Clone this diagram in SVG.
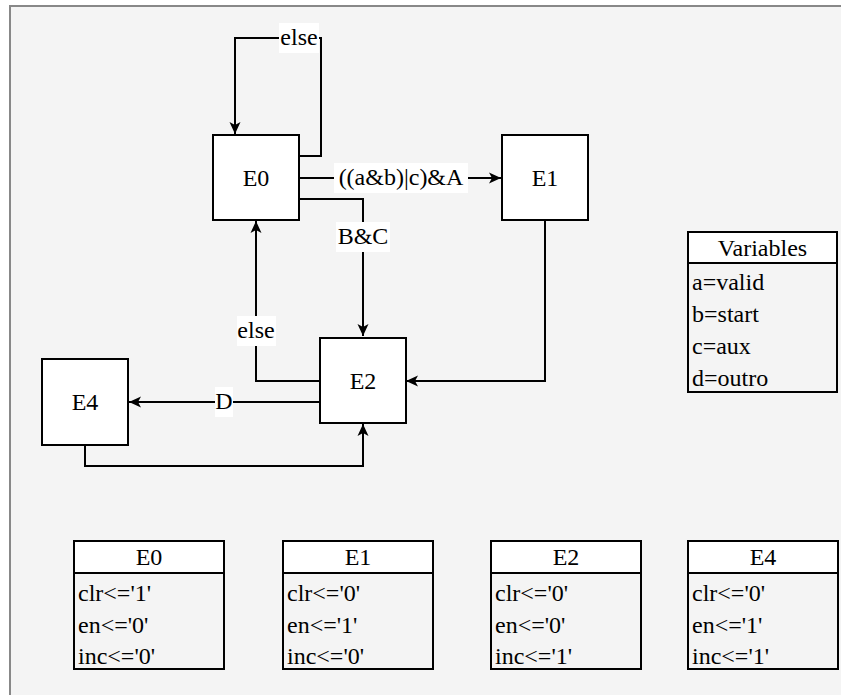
<svg xmlns="http://www.w3.org/2000/svg" width="841" height="695" viewBox="0 0 841 695">
  <style>
    text { font-family: "Liberation Serif", "Times New Roman", serif; font-size: 24px; fill: #000; dominant-baseline: central; }
    .node { fill: #fff; stroke: #000; stroke-width: 2; }
    .edge { fill: none; stroke: #000; stroke-width: 2; }
    .lbl { fill: #fff; stroke: none; }
    .mid { text-anchor: middle; }
    .tbl { fill: none; stroke: #000; stroke-width: 2; }
    .head { fill: #fff; stroke: #000; stroke-width: 2; }
  </style>
  <defs>
    <marker id="arrow" markerUnits="userSpaceOnUse" markerWidth="14" markerHeight="12" refX="12.5" refY="6" orient="auto">
      <path d="M0.5,0.5 L12.5,6 L0.5,11.5 L3.5,6 Z" fill="#000"/>
    </marker>
  </defs>

  <!-- canvas -->
  <rect x="0" y="0" width="841" height="695" fill="#fff"/>
  <rect x="10" y="6" width="831" height="689" fill="#f4f4f4"/>
  <path d="M10,695 L10,6 L841,6" fill="none" stroke="#888" stroke-width="2"/>

  <!-- connectors -->
  <g id="connectors">
    <!-- E0 self loop -->
    <path class="edge" d="M299,156 L321,156 L321,38 L235,38 L235,134" marker-end="url(#arrow)"/>
    <rect class="lbl" x="279" y="23" width="40" height="30"/>
    <text class="mid" x="299" y="37">else</text>

    <!-- E0 to E1 -->
    <path class="edge" d="M299,178 L501,178" marker-end="url(#arrow)"/>
    <rect class="lbl" x="334" y="163" width="134" height="30"/>
    <text class="mid" x="401" y="177">((a&amp;b)|c)&amp;A</text>

    <!-- E0 to E2 -->
    <path class="edge" d="M299,199 L363,199 L363,336" marker-end="url(#arrow)"/>
    <rect class="lbl" x="336" y="222" width="54" height="30"/>
    <text class="mid" x="363" y="236">B&amp;C</text>

    <!-- E2 to E0 -->
    <path class="edge" d="M320,381 L256,381 L256,221" marker-end="url(#arrow)"/>
    <rect class="lbl" x="237" y="316" width="39" height="30"/>
    <text class="mid" x="256" y="330">else</text>

    <!-- E1 to E2 -->
    <path class="edge" d="M545,220 L545,381 L406,381" marker-end="url(#arrow)"/>

    <!-- E2 to E4 -->
    <path class="edge" d="M320,402 L129,402" marker-end="url(#arrow)"/>
    <rect class="lbl" x="215" y="387" width="18" height="30"/>
    <text class="mid" x="224" y="401">D</text>

    <!-- E4 to E2 -->
    <path class="edge" d="M85,445 L85,466 L363,466 L363,424" marker-end="url(#arrow)"/>
  </g>

  <!-- states -->
  <g id="E0">
    <rect class="node" x="213" y="135" width="86" height="85"/>
    <text class="mid" x="256" y="178">E0</text>
  </g>
  <g id="E1">
    <rect class="node" x="502" y="135" width="86" height="85"/>
    <text class="mid" x="545" y="178">E1</text>
  </g>
  <g id="E2">
    <rect class="node" x="320" y="338" width="86" height="85"/>
    <text class="mid" x="363" y="381">E2</text>
  </g>
  <g id="E4">
    <rect class="node" x="42" y="359" width="86" height="86"/>
    <text class="mid" x="85" y="402">E4</text>
  </g>

  <!-- variable legend -->
  <g id="variables">
    <rect class="head" x="688" y="232" width="149" height="31"/>
    <rect class="tbl" x="688" y="232" width="149" height="160"/>
    <text class="mid" x="762.5" y="248">Variables</text>
    <text x="692" y="282">a=valid</text>
    <text x="692" y="314">b=start</text>
    <text x="692" y="346">c=aux</text>
    <text x="692" y="378">d=outro</text>
  </g>

  <!-- state outputs -->
  <g id="out-E0">
    <rect class="head" x="74" y="541" width="150" height="32"/>
    <rect class="tbl" x="74" y="541" width="150" height="128"/>
    <text class="mid" x="149" y="557">E0</text>
    <text x="78" y="593">clr&lt;='1'</text>
    <text x="78" y="625">en&lt;='0'</text>
    <text x="78" y="656">inc&lt;='0'</text>
  </g>
  <g id="out-E1">
    <rect class="head" x="283" y="541" width="150" height="32"/>
    <rect class="tbl" x="283" y="541" width="150" height="128"/>
    <text class="mid" x="358" y="557">E1</text>
    <text x="287" y="593">clr&lt;='0'</text>
    <text x="287" y="625">en&lt;='1'</text>
    <text x="287" y="656">inc&lt;='0'</text>
  </g>
  <g id="out-E2">
    <rect class="head" x="491" y="541" width="150" height="32"/>
    <rect class="tbl" x="491" y="541" width="150" height="128"/>
    <text class="mid" x="566" y="557">E2</text>
    <text x="495" y="593">clr&lt;='0'</text>
    <text x="495" y="625">en&lt;='0'</text>
    <text x="495" y="656">inc&lt;='1'</text>
  </g>
  <g id="out-E4">
    <rect class="head" x="688" y="541" width="150" height="32"/>
    <rect class="tbl" x="688" y="541" width="150" height="128"/>
    <text class="mid" x="763" y="557">E4</text>
    <text x="692" y="593">clr&lt;='0'</text>
    <text x="692" y="625">en&lt;='1'</text>
    <text x="692" y="656">inc&lt;='1'</text>
  </g>
</svg>
